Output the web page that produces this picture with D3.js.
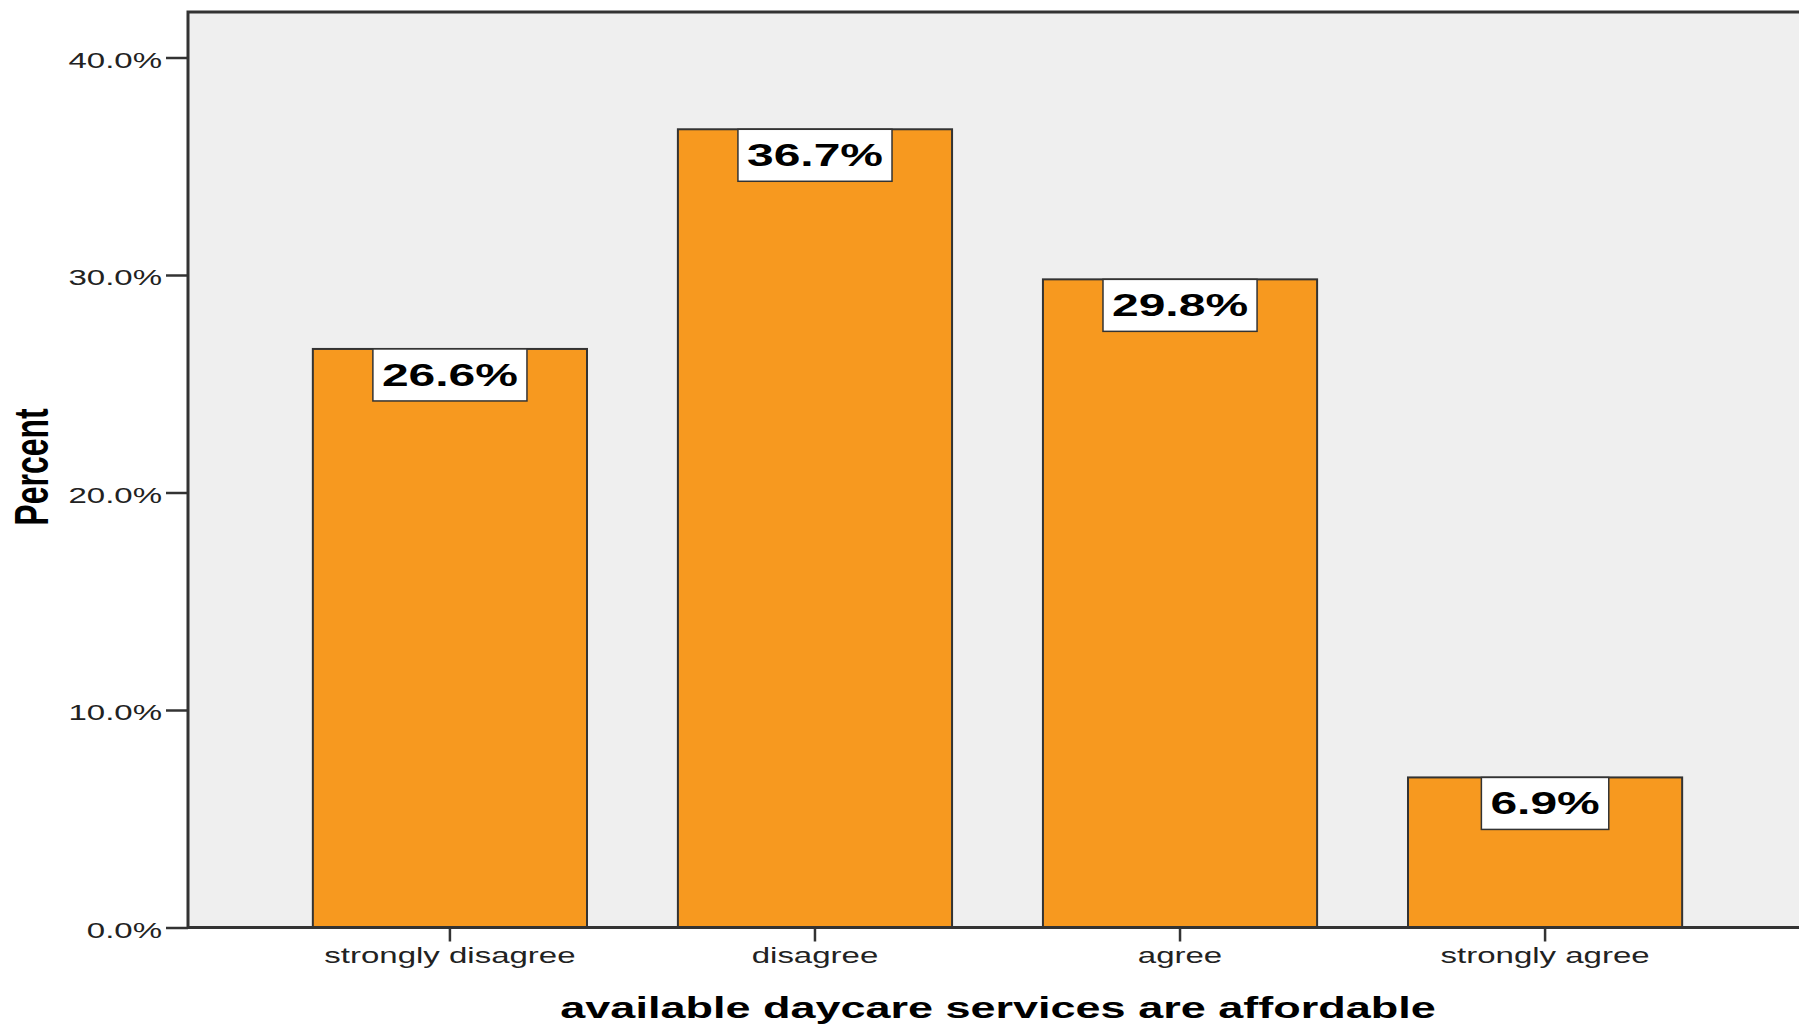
<!DOCTYPE html>
<html>
<head>
<meta charset="utf-8">
<script src="https://cdn.jsdelivr.net/npm/d3@7"></script>
<style>
  html, body { margin: 0; padding: 0; background: #ffffff; }
  svg { display: block; }
  text { font-family: "Liberation Sans", Arial, sans-serif; }
</style>
</head>
<body>
<svg id="chart" width="1799" height="1024"></svg>
<script>
const categories = ["strongly disagree", "disagree", "agree", "strongly agree"];
const percents = [26.6, 36.7, 29.8, 6.9];
const yTicks = [0, 10, 20, 30, 40];
const yTitle = "Percent";
const xTitle = "available daycare services are affordable";

const W = 1799, H = 1024;
const SX = 1.5; // horizontal text stretch seen in the reference
const m = { left: 188, top: 12, right: 1807, bottom: 927.5 };

const svg = d3.select("#chart");

const x = d3.scaleBand()
  .domain(categories)
  .range([m.left, m.right])
  .paddingInner(0.249)
  .paddingOuter(0.342);

const y = d3.scaleLinear()
  .domain([0, 40])
  .range([m.bottom, m.bottom - 4 * 217.5]);

// plot background
svg.append("rect")
  .attr("x", m.left).attr("y", m.top)
  .attr("width", m.right - m.left + 20).attr("height", m.bottom - m.top)
  .attr("fill", "#efefef");

// bars
svg.append("g").selectAll("rect")
  .data(categories)
  .join("rect")
  .attr("x", d => x(d))
  .attr("y", (d, i) => y(percents[i]))
  .attr("width", x.bandwidth())
  .attr("height", (d, i) => y(0) - y(percents[i]))
  .attr("fill", "#f7991f")
  .attr("stroke", "#333333")
  .attr("stroke-width", 2);

// frame lines (left, top, bottom)
svg.append("path")
  .attr("d", `M${m.right + 20},${m.top}H${m.left}V${m.bottom}H${m.right + 20}`)
  .attr("fill", "none")
  .attr("stroke", "#333333")
  .attr("stroke-width", 3);

// Y axis
const yAxis = svg.append("g")
  .attr("transform", `translate(${m.left},0)`)
  .call(d3.axisLeft(y).tickValues(yTicks).tickSize(22)
    .tickFormat(d => d3.format(".1f")(d) + "%"));
yAxis.select(".domain").remove();
yAxis.selectAll(".tick line").attr("stroke", "#333333").attr("stroke-width", 2.5);
yAxis.selectAll(".tick text")
  .attr("x", null).attr("dy", null)
  .attr("text-anchor", "end")
  .attr("transform", `translate(-26,9.5) scale(${SX},1)`)
  .attr("font-size", 22)
  .attr("font-family", "'Liberation Sans', Arial, sans-serif")
  .attr("fill", "#222222");

// X axis
const xAxis = svg.append("g")
  .attr("transform", `translate(0,${m.bottom})`)
  .call(d3.axisBottom(x).tickSize(14).tickSizeOuter(0));
xAxis.select(".domain").remove();
xAxis.selectAll(".tick line").attr("stroke", "#333333").attr("stroke-width", 2.5);
xAxis.selectAll(".tick text")
  .attr("y", null).attr("dy", null)
  .attr("text-anchor", "middle")
  .attr("transform", `translate(0,35.5) scale(${SX},1)`)
  .attr("font-size", 22)
  .attr("font-family", "'Liberation Sans', Arial, sans-serif")
  .attr("fill", "#222222");

// value labels
const lab = svg.append("g").selectAll("g")
  .data(categories)
  .join("g")
  .attr("transform", (d, i) => `translate(${x(d) + x.bandwidth() / 2},${y(percents[i])})`);

lab.each(function (d, i) {
  const g = d3.select(this);
  const rect = g.append("rect");
  const t = g.append("text")
    .attr("text-anchor", "middle")
    .attr("font-size", 32)
    .attr("font-weight", "bold")
    .attr("fill", "#000000")
    .attr("transform", `translate(0,37) scale(${SX},1)`)
    .text(d3.format(".1f")(percents[i]) + "%");
  const w = t.node().getComputedTextLength() * SX + 18;
  rect.attr("x", -w / 2).attr("y", 0)
    .attr("width", w).attr("height", 52)
    .attr("fill", "#ffffff")
    .attr("stroke", "#333333")
    .attr("stroke-width", 1.5);
});

// Y title
svg.append("text")
  .attr("transform", `translate(48,467) scale(${SX},1) rotate(-90)`)
  .attr("text-anchor", "middle")
  .attr("font-size", 32)
  .attr("font-weight", "bold")
  .attr("fill", "#000000")
  .text(yTitle);

// X title
svg.append("text")
  .attr("transform", `translate(${(558 + 1438) / 2},1018) scale(${SX},1)`)
  .attr("text-anchor", "middle")
  .attr("font-size", 30)
  .attr("font-weight", "bold")
  .attr("fill", "#000000")
  .text(xTitle);
</script>
</body>
</html>
